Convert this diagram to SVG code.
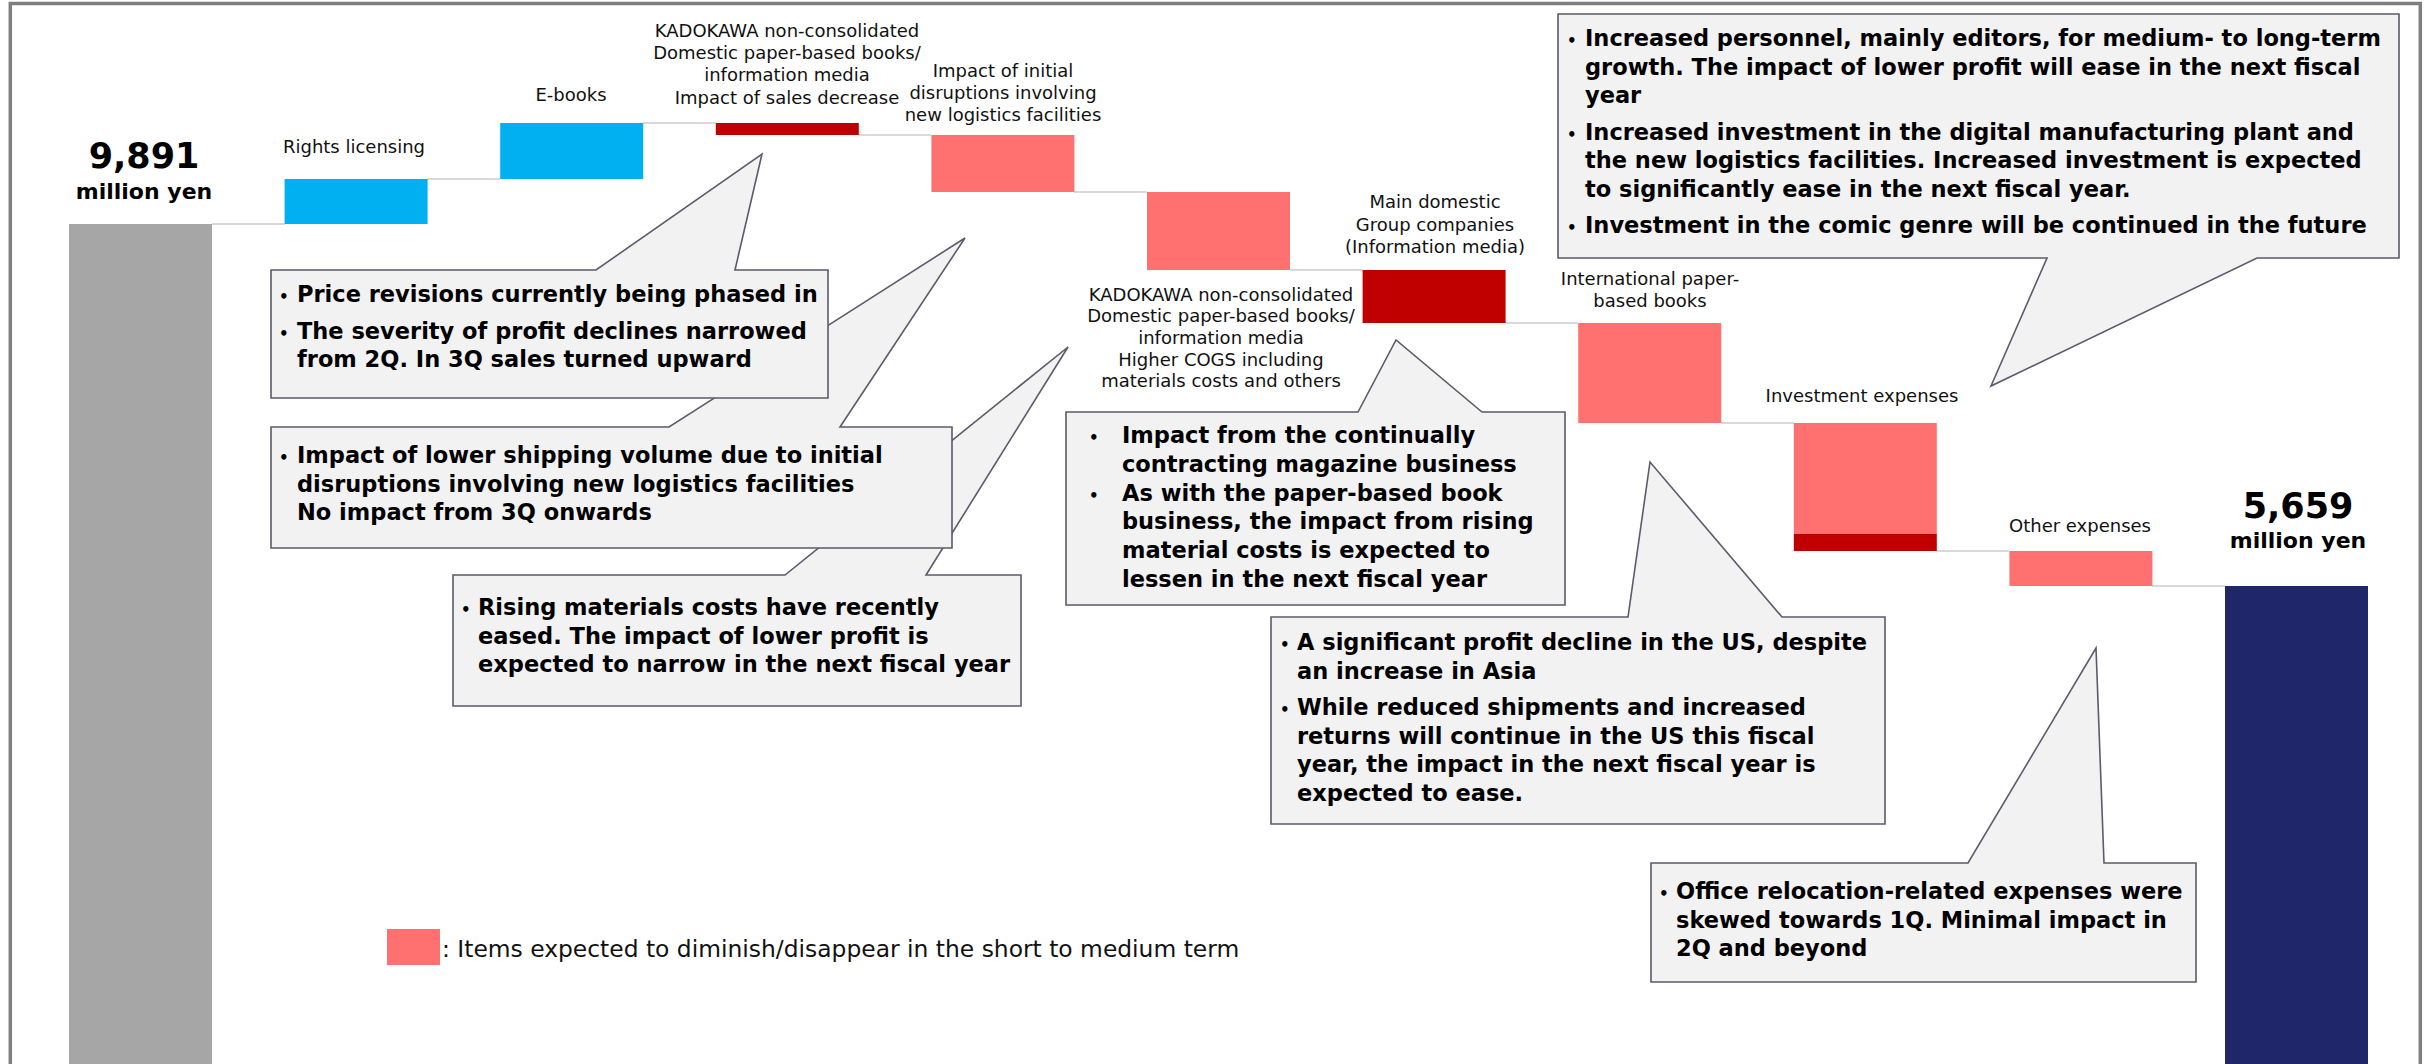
<svg xmlns="http://www.w3.org/2000/svg" width="2435" height="1064" viewBox="0 0 2435 1064">
<style>
.lbl{font-family:"DejaVu Sans",sans-serif;font-size:18px;fill:#111;text-anchor:middle}
.co{font-family:"DejaVu Sans",sans-serif;font-size:22.5px;font-weight:bold;fill:#000}
.bul{font-family:"DejaVu Sans",sans-serif;font-size:15px;font-weight:bold;fill:#000}
.big{font-family:"DejaVu Sans",sans-serif;font-weight:bold;fill:#000;text-anchor:middle}
.box{fill:#F2F2F2;stroke:#5B5B6B;stroke-width:1.6;stroke-linejoin:miter}
.conn{stroke:#D9D9D9;stroke-width:2}
.blue{fill:#00B0F0}.dred{fill:#C00000}.pink{fill:#FF7171}
</style>
<rect x="10.3" y="3.5" width="2410" height="1100" fill="#FFFFFF" stroke="#7F7F7F" stroke-width="3.5"/>

<g id="connectors">
<line class="conn" x1="212" y1="224" x2="285" y2="224"/>
<line class="conn" x1="427" y1="179" x2="500" y2="179"/>
<line class="conn" x1="643" y1="123" x2="716" y2="123"/>
<line class="conn" x1="858" y1="135" x2="931" y2="135"/>
<line class="conn" x1="1074" y1="192" x2="1147" y2="192"/>
<line class="conn" x1="1290" y1="270" x2="1363" y2="270"/>
<line class="conn" x1="1505" y1="323" x2="1578" y2="323"/>
<line class="conn" x1="1721" y1="423" x2="1794" y2="423"/>
<line class="conn" x1="1936" y1="551" x2="2009" y2="551"/>
<line class="conn" x1="2152" y1="586" x2="2225" y2="586"/>
</g>

<g id="start">
<rect x="69" y="224" width="143" height="850" fill="#A6A6A6"/>
<text class="big" x="144" y="168" font-size="35">9,891</text>
<text class="big" x="144" y="199" font-size="22">million yen</text>
</g>

<g id="rights-licensing">
<rect class="blue" x="284.6" y="179" width="143" height="45"/>
<text class="lbl" x="354" y="153">Rights licensing</text>
</g>

<g id="e-books">
<rect class="blue" x="500.2" y="123" width="143" height="56"/>
<text class="lbl" x="571" y="101">E-books</text>
</g>

<g id="sales-decrease">
<rect class="dred" x="715.8" y="123" width="143" height="12"/>
<text class="lbl" x="787" y="37">KADOKAWA non-consolidated</text>
<text class="lbl" x="787" y="59">Domestic paper-based books/</text>
<text class="lbl" x="787" y="81">information media</text>
<text class="lbl" x="787" y="104">Impact of sales decrease</text>
</g>

<g id="logistics-disruptions">
<rect class="pink" x="931.4" y="135" width="143" height="57"/>
<text class="lbl" x="1003" y="77">Impact of initial</text>
<text class="lbl" x="1003" y="99">disruptions involving</text>
<text class="lbl" x="1003" y="121">new logistics facilities</text>
</g>

<g id="higher-cogs">
<rect class="pink" x="1147" y="192" width="143" height="78"/>
<text class="lbl" x="1221" y="301">KADOKAWA non-consolidated</text>
<text class="lbl" x="1221" y="322">Domestic paper-based books/</text>
<text class="lbl" x="1221" y="344">information media</text>
<text class="lbl" x="1221" y="366">Higher COGS including</text>
<text class="lbl" x="1221" y="387">materials costs and others</text>
</g>

<g id="main-domestic">
<rect class="dred" x="1362.6" y="270" width="143" height="53"/>
<text class="lbl" x="1435" y="208">Main domestic</text>
<text class="lbl" x="1435" y="231">Group companies</text>
<text class="lbl" x="1435" y="253">(Information media)</text>
</g>

<g id="international">
<rect class="pink" x="1578.2" y="323" width="143" height="100"/>
<text class="lbl" x="1650" y="285">International paper-</text>
<text class="lbl" x="1650" y="307">based books</text>
</g>

<g id="investment">
<rect class="pink" x="1793.8" y="423" width="143" height="111"/>
<rect class="dred" x="1793.8" y="534" width="143" height="17"/>
<text class="lbl" x="1862" y="402">Investment expenses</text>
</g>

<g id="other-expenses">
<rect class="pink" x="2009.4" y="551" width="143" height="35"/>
<text class="lbl" x="2080" y="532" font-size="20.5">Other expenses</text>
</g>

<g id="end">
<rect x="2225" y="586" width="143" height="490" fill="#1F266A"/>
<text class="big" x="2298" y="518" font-size="35">5,659</text>
<text class="big" x="2298" y="548" font-size="22">million yen</text>
</g>

<g id="callout-materials">
<path class="box" d="M453,575 L785,575 L1068,347 L926,575 L1021,575 L1021,706 L453,706 Z"/>
<text class="bul" x="461" y="615">•</text>
<text class="co" x="478" y="615">Rising materials costs have recently</text>
<text class="co" x="478" y="643.5">eased. The impact of lower profit is</text>
<text class="co" x="478" y="672">expected to narrow in the next fiscal year</text>
</g>

<g id="callout-shipping">
<path class="box" d="M271,427 L669,427 L965,238 L840,427 L952,427 L952,548 L271,548 Z"/>
<text class="bul" x="279" y="463">•</text>
<text class="co" x="297" y="463">Impact of lower shipping volume due to initial</text>
<text class="co" x="297" y="491.5">disruptions involving new logistics facilities</text>
<text class="co" x="297" y="520">No impact from 3Q onwards</text>
</g>

<g id="callout-price">
<path class="box" d="M271,270 L596,270 L762,154 L735,270 L828,270 L828,398 L271,398 Z"/>
<text class="bul" x="279" y="302">•</text>
<text class="co" x="297" y="302">Price revisions currently being phased in</text>
<text class="bul" x="279" y="338.5">•</text>
<text class="co" x="297" y="338.5">The severity of profit declines narrowed</text>
<text class="co" x="297" y="367">from 2Q. In 3Q sales turned upward</text>
</g>

<g id="callout-magazine">
<path class="box" d="M1066,412 L1358,412 L1396,340 L1482,412 L1565,412 L1565,605 L1066,605 Z"/>
<text class="bul" x="1089" y="443">•</text>
<text class="co" x="1122" y="443">Impact from the continually</text>
<text class="co" x="1122" y="471.8">contracting magazine business</text>
<text class="bul" x="1089" y="500.6">•</text>
<text class="co" x="1122" y="500.6">As with the paper-based book</text>
<text class="co" x="1122" y="529.4">business, the impact from rising</text>
<text class="co" x="1122" y="558.2">material costs is expected to</text>
<text class="co" x="1122" y="587">lessen in the next fiscal year</text>
</g>

<g id="callout-us">
<path class="box" d="M1271,617 L1628,617 L1650,462 L1782,617 L1885,617 L1885,824 L1271,824 Z"/>
<text class="bul" x="1280" y="650">•</text>
<text class="co" x="1297" y="650">A significant profit decline in the US, despite</text>
<text class="co" x="1297" y="678.5">an increase in Asia</text>
<text class="bul" x="1280" y="715">•</text>
<text class="co" x="1297" y="715">While reduced shipments and increased</text>
<text class="co" x="1297" y="743.5">returns will continue in the US this fiscal</text>
<text class="co" x="1297" y="772">year, the impact in the next fiscal year is</text>
<text class="co" x="1297" y="800.5">expected to ease.</text>
</g>

<g id="callout-office">
<path class="box" d="M1651,863 L1968,863 L2096,648 L2104,863 L2196,863 L2196,982 L1651,982 Z"/>
<text class="bul" x="1659" y="899">•</text>
<text class="co" x="1676" y="899">Office relocation-related expenses were</text>
<text class="co" x="1676" y="927.5">skewed towards 1Q. Minimal impact in</text>
<text class="co" x="1676" y="956">2Q and beyond</text>
</g>

<g id="callout-investment">
<path class="box" d="M1558,14 L2399,14 L2399,258 L2257,258 L1991,386 L2047,258 L1558,258 Z"/>
<text class="bul" x="1567" y="46">•</text>
<text class="co" x="1585" y="46">Increased personnel, mainly editors, for medium- to long-term</text>
<text class="co" x="1585" y="74.5">growth. The impact of lower profit will ease in the next fiscal</text>
<text class="co" x="1585" y="103">year</text>
<text class="bul" x="1567" y="139.5">•</text>
<text class="co" x="1585" y="139.5">Increased investment in the digital manufacturing plant and</text>
<text class="co" x="1585" y="168">the new logistics facilities. Increased investment is expected</text>
<text class="co" x="1585" y="196.5">to significantly ease in the next fiscal year.</text>
<text class="bul" x="1567" y="233">•</text>
<text class="co" x="1585" y="233">Investment in the comic genre will be continued in the future</text>
</g>

<g id="legend">
<rect class="pink" x="387" y="929" width="53" height="36"/>
<text x="442" y="957" font-family="DejaVu Sans, sans-serif" font-size="23.4" fill="#111">: Items expected to diminish/disappear in the short to medium term</text>
</g>
</svg>
